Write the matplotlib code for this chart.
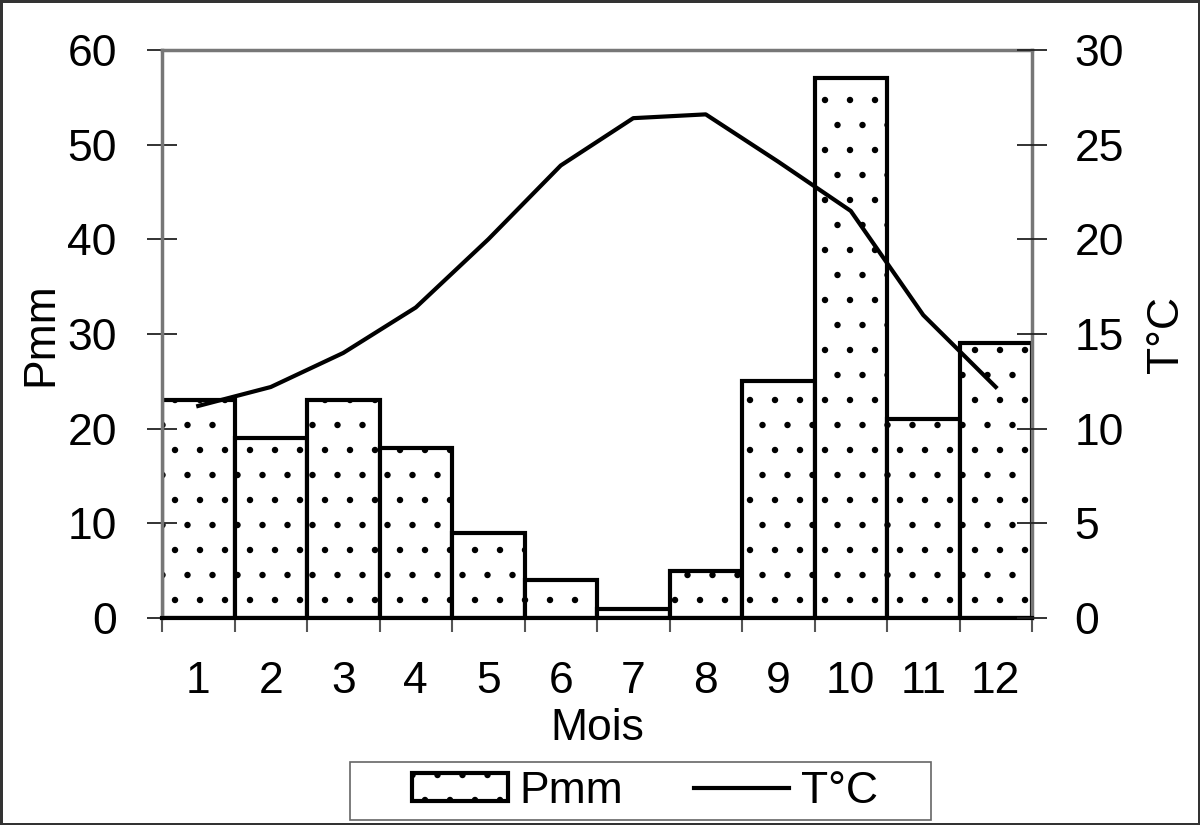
import numpy as np
import matplotlib
matplotlib.use('Agg')
import matplotlib.pyplot as plt
from matplotlib.patches import Rectangle
from matplotlib.ticker import MultipleLocator, FixedLocator, NullFormatter
from matplotlib.backend_bases import GraphicsContextBase

plt.rcParams['font.family'] = ['Liberation Sans', 'DejaVu Sans']
plt.rcParams['hatch.linewidth'] = 1.0

# sparser dot pattern than the default hatch density
_hatch_path = GraphicsContextBase.get_hatch_path
GraphicsContextBase.get_hatch_path = lambda self, density=4.0: _hatch_path(self, density)

# data
mois = [1, 2, 3, 4, 5, 6, 7, 8, 9, 10, 11, 12]
pmm = [23, 19, 23, 18, 9, 4, 1, 5, 25, 57, 21, 29]
temp = [11.2, 12.2, 14.0, 16.4, 20.0, 23.9, 26.4, 26.6, 24.1, 21.5, 16.0, 12.2]

fs = 32

fig = plt.figure(figsize=(12, 8.25), dpi=100)
fig.patch.set_edgecolor('#333333')
fig.patch.set_linewidth(2.5)

ax = fig.add_axes([0.135, 0.2509, 0.725, 0.6885])
bars = ax.bar(mois, pmm, width=1.0, color='white', edgecolor='black',
              linewidth=3, hatch='.', label='Pmm')

ax.set_xlim(0.5, 12.5)
ax.set_ylim(0, 60)
ax.yaxis.set_major_locator(MultipleLocator(10))

# labels at the centres, ticks at bar edges
ax.xaxis.set_major_locator(FixedLocator(mois))
ax.xaxis.set_minor_locator(FixedLocator(np.arange(0.5, 13, 1)))
ax.xaxis.set_minor_formatter(NullFormatter())
ax.tick_params(axis='x', which='major', length=0, pad=31, labelsize=fs)
ax.tick_params(axis='x', which='minor', length=10, width=1.5,
               color='#555555', direction='out')
ax.tick_params(axis='y', length=21, width=1.3, direction='inout',
               color='#222222', labelsize=fs, pad=22)

for s in ['left', 'top', 'right']:
    ax.spines[s].set_color('#777777')
    ax.spines[s].set_linewidth(2.5)
ax.spines['bottom'].set_color('black')
ax.spines['bottom'].set_linewidth(3)

ax.set_xlabel('Mois', fontsize=fs, labelpad=4)
ax.set_ylabel('Pmm', fontsize=fs, labelpad=4)

ax2 = ax.twinx()
line, = ax2.plot(mois, temp, color='black', linewidth=3, label='T°C')
ax2.set_ylim(0, 30)
ax2.yaxis.set_major_locator(MultipleLocator(5))
ax2.tick_params(axis='y', length=21, width=1.3, direction='inout',
                color='#222222', labelsize=fs, pad=20)
for s in ['left', 'top', 'right', 'bottom']:
    ax2.spines[s].set_visible(False)
ax2.set_ylabel('T°C', fontsize=fs, labelpad=16)

leg = fig.legend([bars, line], ['Pmm', 'T°C'], ncol=2, loc='center',
                 bbox_to_anchor=(0.5375, 0.041), fontsize=fs, frameon=False,
                 handlelength=2.15, handleheight=0.62, handletextpad=0.25,
                 columnspacing=1.6, borderpad=0.2, borderaxespad=0)
fig.patches.append(Rectangle((350 / 1200, 5 / 825), 581 / 1200, 58 / 825,
                             transform=fig.transFigure, fill=False,
                             edgecolor='#666666', linewidth=1.2))

plt.savefig('out.png', dpi=100)
